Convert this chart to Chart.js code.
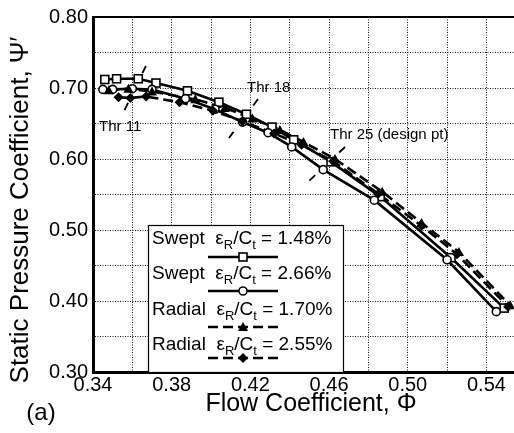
<!DOCTYPE html>
<html>
<head>
<meta charset="utf-8">
<script src="https://cdn.jsdelivr.net/npm/chart.js@4.4.1/dist/chart.umd.min.js"></script>
<style>
  body { margin: 0; background: #fff; }
  #grafico { display: block; }
</style>
</head>
<body>
<canvas id="grafico" width="514" height="433"></canvas>
<script>
// dados (Phi, Psi')
const sweptA_x = [0.346, 0.352, 0.363, 0.372, 0.388, 0.404, 0.418, 0.431, 0.442, 0.461, 0.486, 0.522, 0.549];
const sweptA_y = [0.712, 0.713, 0.713, 0.707, 0.696, 0.680, 0.663, 0.645, 0.627, 0.596, 0.547, 0.461, 0.390];

const sweptB_x = [0.345, 0.350, 0.360, 0.370, 0.387, 0.402, 0.416, 0.429, 0.441, 0.457, 0.483, 0.520, 0.545];
const sweptB_y = [0.698, 0.698, 0.699, 0.698, 0.685, 0.670, 0.652, 0.637, 0.617, 0.585, 0.542, 0.458, 0.385];

const radialA_x = [0.348, 0.358, 0.370, 0.392, 0.407, 0.421, 0.435, 0.447, 0.463, 0.487, 0.507, 0.526, 0.552];
const radialA_y = [0.697, 0.699, 0.695, 0.684, 0.672, 0.657, 0.641, 0.624, 0.600, 0.554, 0.510, 0.469, 0.394];

const radialB_x = [0.353, 0.359, 0.367, 0.384, 0.401, 0.416, 0.432, 0.446, 0.462, 0.485, 0.507, 0.525, 0.551];
const radialB_y = [0.687, 0.686, 0.688, 0.680, 0.668, 0.653, 0.636, 0.620, 0.597, 0.551, 0.506, 0.466, 0.392];

// linhas de estrangulamento (Thr)
const thr11_x = [0.3669, 0.3558];
const thr11_y = [0.731, 0.6676];
const thr18_x = [0.4239, 0.4091];
const thr18_y = [0.6845, 0.6296];
const thr25_x = [0.4681, 0.4498];
const thr25_y = [0.6169, 0.569];

const legendas = [
    { tipo: 'Swept', valor: '1.48%' },
    { tipo: 'Swept', valor: '2.66%' },
    { tipo: 'Radial', valor: '1.70%' },
    { tipo: 'Radial', valor: '2.55%' }
];

const xMin = 0.34, xMax = 0.554;
const yMin = 0.30, yMax = 0.80;

const fonte = '"Liberation Sans", Arial, Helvetica, sans-serif';

function pontos(xs, ys) {
    return xs.map((x, i) => ({ x: x, y: ys[i] }));
}

// desenha um marcador no estilo da figura
function desenharMarcador(ctx, estilo, x, y) {
    ctx.save();
    ctx.lineWidth = 1.6;
    ctx.strokeStyle = '#000';
    ctx.setLineDash([]);
    if (estilo === 'square') {
        ctx.fillStyle = '#fff';
        ctx.fillRect(x - 4, y - 4, 8, 8);
        ctx.strokeRect(x - 4, y - 4, 8, 8);
    } else if (estilo === 'circle') {
        ctx.fillStyle = '#fff';
        ctx.beginPath();
        ctx.arc(x, y, 4, 0, Math.PI * 2);
        ctx.fill();
        ctx.stroke();
    } else if (estilo === 'triangle') {
        ctx.fillStyle = '#000';
        ctx.beginPath();
        ctx.moveTo(x, y - 5);
        ctx.lineTo(x + 5, y + 4);
        ctx.lineTo(x - 5, y + 4);
        ctx.closePath();
        ctx.fill();
    } else if (estilo === 'diamond') {
        ctx.fillStyle = '#000';
        ctx.beginPath();
        ctx.moveTo(x, y - 5);
        ctx.lineTo(x + 5, y);
        ctx.lineTo(x, y + 5);
        ctx.lineTo(x - 5, y);
        ctx.closePath();
        ctx.fill();
    }
    ctx.restore();
}

const estilos = ['square', 'circle', 'triangle', 'diamond'];
const tracos = [[], [], [10, 5], [10, 5]];

function serie(xs, ys, i) {
    return {
        data: pontos(xs, ys),
        borderColor: '#000',
        borderWidth: 2.6,
        borderDash: tracos[i],
        pointRadius: 0,
        marcador: estilos[i],
        order: 1
    };
}

// só um traço em cada ponta, como na figura
function linhaThr(xs, ys) {
    return {
        data: pontos(xs, ys),
        borderColor: '#000',
        borderWidth: 1.8,
        borderDash: [8, 33],
        pointRadius: 0,
        order: 2
    };
}

// marcadores, textos, legenda e moldura
const pluginFigura = {
    id: 'pluginFigura',
    afterDatasetsDraw(chart) {
        const ctx = chart.ctx;
        const area = chart.chartArea;

        // marcadores
        chart.data.datasets.forEach((ds, i) => {
            if (!ds.marcador) return;
            const meta = chart.getDatasetMeta(i);
            meta.data.forEach(p => desenharMarcador(ctx, ds.marcador, p.x, p.y));
        });

        // borda superior
        ctx.save();
        ctx.strokeStyle = '#000';
        ctx.lineWidth = 2;
        ctx.beginPath();
        ctx.moveTo(area.left, area.top);
        ctx.lineTo(area.right, area.top);
        ctx.stroke();
        ctx.restore();

        // rótulos Thr
        ctx.save();
        ctx.fillStyle = '#000';
        ctx.font = '15px ' + fonte;
        ctx.textBaseline = 'middle';
        ctx.fillText('Thr 11', 99, 127);
        ctx.fillText('Thr 18', 247, 88);
        ctx.fillText('Thr 25 (design pt)', 330, 135);
        ctx.restore();

        // legenda
        const bx = 148, by = 225, bw = 195, bh = area.bottom - by;
        ctx.save();
        ctx.fillStyle = '#fff';
        ctx.fillRect(bx, by, bw, bh);
        ctx.strokeStyle = '#000';
        ctx.lineWidth = 1.2;
        ctx.strokeRect(bx + 0.5, by + 0.5, bw, bh);

        const textoY = [239, 274, 310, 345];
        const linhaY = [257, 291, 327, 358];
        legendas.forEach((l, i) => {
            let x = 152;
            const y = textoY[i];
            ctx.fillStyle = '#000';
            ctx.textBaseline = 'middle';
            const partes = [
                [l.tipo + '  ', 19, 0],
                ['\u03b5', 19, 0],
                ['R', 13, 6],
                ['/C', 19, 0],
                ['t', 13, 6],
                [' = ' + l.valor, 19, 0]
            ];
            partes.forEach(p => {
                ctx.font = p[1] + 'px ' + fonte;
                ctx.fillText(p[0], x, y + p[2]);
                x += ctx.measureText(p[0]).width;
            });
            ctx.strokeStyle = '#000';
            ctx.lineWidth = 2.4;
            ctx.setLineDash(tracos[i]);
            ctx.beginPath();
            ctx.moveTo(208, linhaY[i]);
            ctx.lineTo(278, linhaY[i]);
            ctx.stroke();
            ctx.setLineDash([]);
            desenharMarcador(ctx, estilos[i], 243, linhaY[i]);
        });
        ctx.restore();

        // títulos dos eixos e "(a)"
        ctx.save();
        ctx.fillStyle = '#000';
        ctx.textAlign = 'center';
        ctx.textBaseline = 'middle';
        ctx.font = '25px ' + fonte;
        ctx.fillText('Flow Coefficient, \u03a6', 311, 404);
        ctx.font = '24px ' + fonte;
        ctx.fillText('(a)', 41, 413);
        ctx.font = '26px ' + fonte;
        ctx.translate(21, 210);
        ctx.rotate(-Math.PI / 2);
        ctx.fillText('Static Pressure Coefficient, \u03a8\u2032', 0, 0);
        ctx.restore();
    }
};

const ctx = document.getElementById('grafico').getContext('2d');

new Chart(ctx, {
    type: 'line',
    data: {
        datasets: [
            serie(sweptA_x, sweptA_y, 0),
            serie(sweptB_x, sweptB_y, 1),
            serie(radialA_x, radialA_y, 2),
            serie(radialB_x, radialB_y, 3),
            linhaThr(thr11_x, thr11_y),
            linhaThr(thr18_x, thr18_y),
            linhaThr(thr25_x, thr25_y)
        ]
    },
    options: {
        responsive: false,
        animation: false,
        layout: { padding: { top: 17, right: 0, left: 0, bottom: 0 } },
        plugins: {
            legend: { display: false },
            tooltip: { enabled: false }
        },
        scales: {
            x: {
                type: 'linear',
                min: xMin,
                max: xMax,
                afterFit: s => { s.height = 61; },
                grid: { color: '#111', lineWidth: 1, drawTicks: false },
                border: { color: '#000', width: 3, dash: [1, 1.5] },
                ticks: {
                    stepSize: 0.02,
                    includeBounds: false,
                    autoSkip: false,
                    maxRotation: 0,
                    padding: 1,
                    color: '#000',
                    font: { family: fonte, size: 20 },
                    callback: v => (Math.round(v * 100) % 4 === 2 ? v.toFixed(2) : '')
                }
            },
            y: {
                min: yMin,
                max: yMax,
                afterFit: s => { s.width = 93; },
                grid: { color: '#111', lineWidth: 1, drawTicks: false },
                border: { color: '#000', width: 3, dash: [1, 1.5] },
                ticks: {
                    stepSize: 0.05,
                    autoSkip: false,
                    padding: 5,
                    color: '#000',
                    font: { family: fonte, size: 20 },
                    callback: v => (Math.round(v * 100) % 10 === 0 ? v.toFixed(2) : '')
                }
            }
        }
    },
    plugins: [pluginFigura]
});
</script>
</body>
</html>
